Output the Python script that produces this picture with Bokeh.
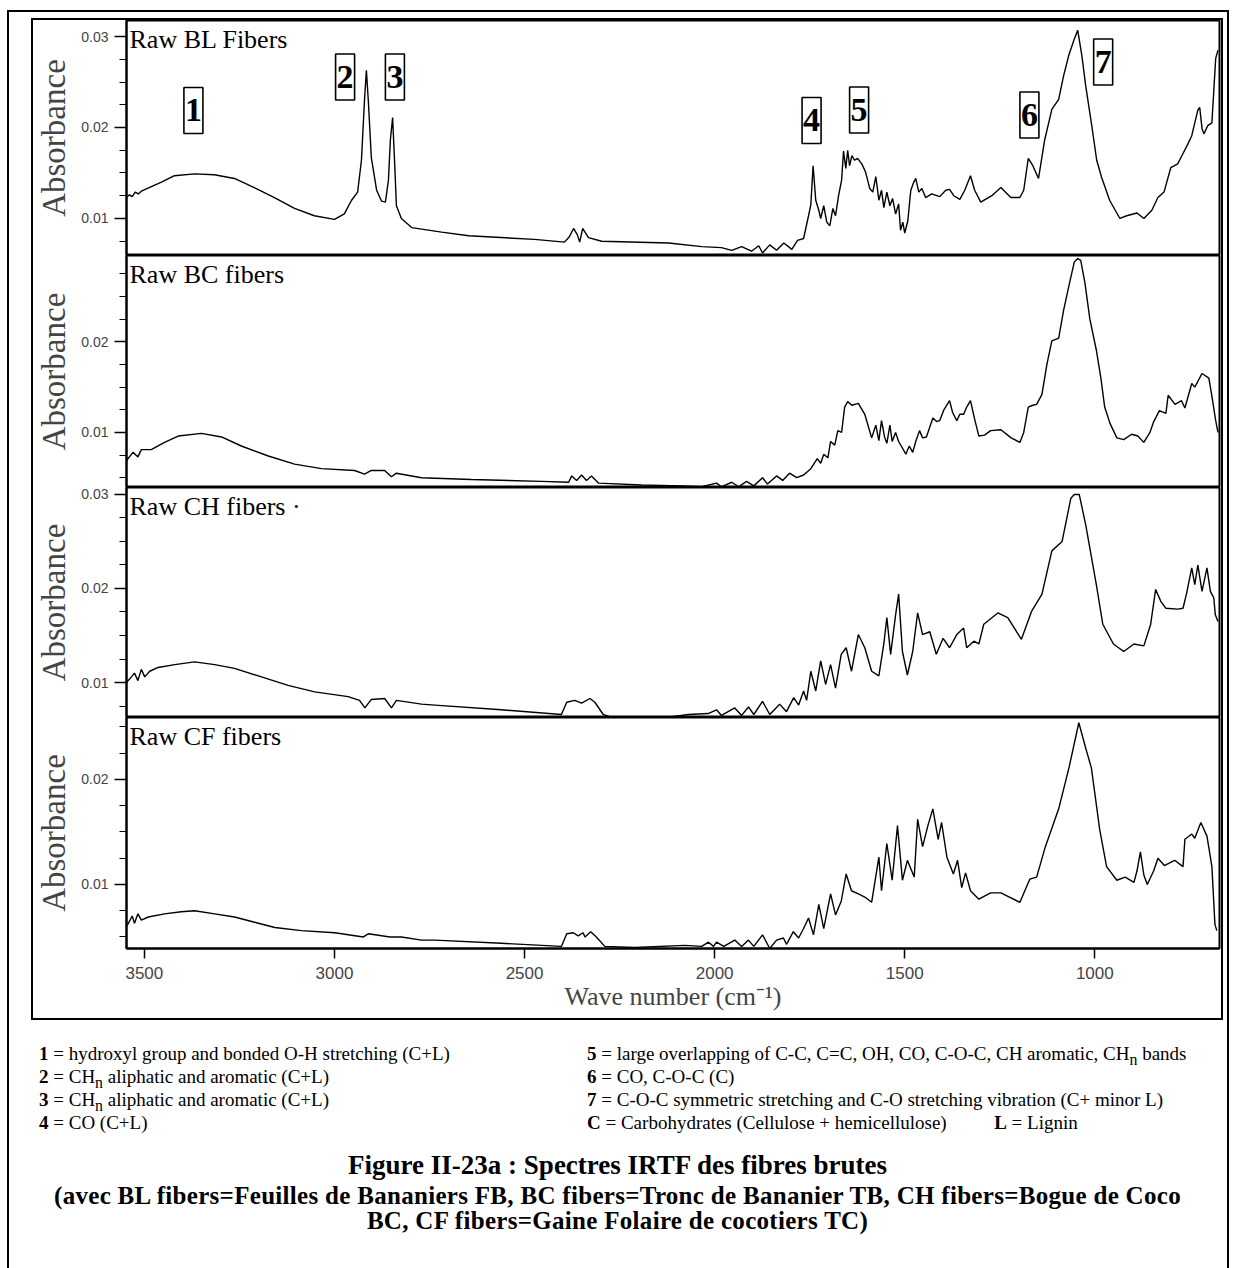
from bokeh.plotting import figure
from bokeh.models import Range1d, SingleIntervalTicker, Label, Div, PrintfTickFormatter
from bokeh.layouts import column
from bokeh.embed import file_html
from bokeh.resources import INLINE
from bokeh.core.properties import value

# ---------------- data ----------------
X_START, X_END = 3547, 672
X_TICKS = [3500, 3000, 2500, 2000, 1500, 1000]

BL_wn = [3547, 3539, 3532, 3524, 3516, 3508, 3455, 3421, 3368, 3316, 3263, 3211, 3158, 3105, 3053, 3000,
         2974, 2955, 2939, 2929, 2921, 2916, 2911, 2903, 2889, 2876, 2866, 2858, 2853, 2847, 2842, 2837,
         2824, 2797, 2718, 2647, 2474, 2395, 2382, 2371, 2361, 2355, 2347, 2332, 2297, 2121, 2034, 1982,
         1955, 1929, 1903, 1884, 1874, 1855, 1837, 1818, 1797, 1782, 1766, 1753, 1747, 1741, 1734, 1726,
         1721, 1713, 1705, 1697, 1689, 1682, 1674, 1666, 1661, 1655, 1650, 1645, 1639, 1632, 1624, 1613,
         1603, 1592, 1584, 1576, 1568, 1561, 1555, 1547, 1539, 1532, 1524, 1516, 1511, 1505, 1500, 1492,
         1484, 1476, 1471, 1463, 1455, 1445, 1429, 1408, 1392, 1382, 1371, 1355, 1342, 1327, 1316, 1300,
         1271, 1247, 1221, 1197, 1187, 1175, 1163, 1148, 1132, 1113, 1095, 1082, 1068, 1055, 1045, 1034,
         1024, 1008, 995, 982, 961, 934, 916, 889, 871, 850, 834, 818, 800, 782, 771, 755,
         745, 737, 729, 724, 718, 713, 703, 692, 682, 676]
BL_abs = [0.0123, 0.0126, 0.0124, 0.0129, 0.0127, 0.0130, 0.0140, 0.0147, 0.0149, 0.0148, 0.0144, 0.0134, 0.0123, 0.0111, 0.0103, 0.0099,
          0.0105, 0.0120, 0.0129, 0.0164, 0.0230, 0.0263, 0.0230, 0.0167, 0.0131, 0.0119, 0.0118, 0.0142, 0.0186, 0.0211, 0.0164, 0.0114,
          0.0100, 0.0090, 0.0085, 0.0081, 0.0077, 0.0074, 0.0080, 0.0089, 0.0082, 0.0074, 0.0089, 0.0079, 0.0075, 0.0073, 0.0069, 0.0068,
          0.0065, 0.0069, 0.0064, 0.0070, 0.0062, 0.0071, 0.0065, 0.0073, 0.0066, 0.0076, 0.0078, 0.0103, 0.0115, 0.0158, 0.0120, 0.0109,
          0.0100, 0.0114, 0.0096, 0.0092, 0.0111, 0.0103, 0.0125, 0.0142, 0.0174, 0.0155, 0.0175, 0.0158, 0.0169, 0.0164, 0.0166, 0.0160,
          0.0151, 0.0133, 0.0129, 0.0146, 0.0120, 0.0131, 0.0112, 0.0129, 0.0114, 0.0122, 0.0105, 0.0116, 0.0087, 0.0096, 0.0084, 0.0097,
          0.0131, 0.0140, 0.0144, 0.0129, 0.0133, 0.0123, 0.0127, 0.0124, 0.0131, 0.0132, 0.0125, 0.0121, 0.0131, 0.0147, 0.0131, 0.0118,
          0.0125, 0.0134, 0.0123, 0.0123, 0.0131, 0.0166, 0.0158, 0.0144, 0.0186, 0.0220, 0.0231, 0.0257, 0.0280, 0.0296, 0.0307, 0.0279,
          0.0246, 0.0202, 0.0164, 0.0145, 0.0120, 0.0100, 0.0103, 0.0106, 0.0100, 0.0109, 0.0123, 0.0129, 0.0156, 0.0160, 0.0169, 0.0182,
          0.0191, 0.0205, 0.0219, 0.0222, 0.0199, 0.0193, 0.0202, 0.0205, 0.0276, 0.0285]

BC_wn = [3547, 3530, 3517, 3508, 3482, 3447, 3411, 3350, 3297, 3245, 3174, 3105, 3034, 2947, 2921, 2903,
         2868, 2850, 2837, 2771, 2640, 2455, 2384, 2376, 2363, 2350, 2337, 2324, 2305, 2192, 2087, 2034,
         1995, 1982, 1955, 1937, 1916, 1897, 1874, 1861, 1837, 1821, 1803, 1784, 1766, 1747, 1730, 1721,
         1713, 1702, 1695, 1684, 1676, 1666, 1658, 1650, 1639, 1622, 1605, 1587, 1576, 1568, 1561, 1553,
         1547, 1539, 1533, 1524, 1516, 1505, 1497, 1488, 1479, 1471, 1461, 1453, 1443, 1434, 1426, 1416,
         1408, 1397, 1382, 1374, 1363, 1355, 1345, 1337, 1327, 1318, 1305, 1290, 1274, 1247, 1220, 1197,
         1187, 1175, 1163, 1153, 1139, 1126, 1113, 1095, 1082, 1068, 1054, 1045, 1037, 1026, 1013, 996,
         984, 974, 960, 942, 924, 903, 887, 871, 855, 845, 830, 813, 807, 789, 772, 763,
         745, 737, 718, 700, 692, 682, 676]
BC_abs = [0.0069, 0.0078, 0.0073, 0.0081, 0.0081, 0.0089, 0.0096, 0.0099, 0.0095, 0.0085, 0.0074, 0.0065, 0.0060, 0.0058, 0.0054, 0.0058,
          0.0058, 0.0051, 0.0055, 0.0050, 0.0048, 0.0046, 0.0045, 0.0052, 0.0047, 0.0053, 0.0047, 0.0052, 0.0044, 0.0042, 0.0041, 0.0040,
          0.0044, 0.0040, 0.0045, 0.0040, 0.0046, 0.0041, 0.0050, 0.0043, 0.0052, 0.0047, 0.0055, 0.0050, 0.0053, 0.0060, 0.0071, 0.0066,
          0.0076, 0.0072, 0.0090, 0.0086, 0.0102, 0.0100, 0.0128, 0.0134, 0.0130, 0.0132, 0.0120, 0.0094, 0.0108, 0.0091, 0.0113, 0.0095,
          0.0088, 0.0108, 0.0090, 0.0100, 0.0090, 0.0082, 0.0076, 0.0085, 0.0078, 0.0090, 0.0102, 0.0094, 0.0095, 0.0106, 0.0116, 0.0112,
          0.0113, 0.0125, 0.0135, 0.0122, 0.0113, 0.0120, 0.0120, 0.0128, 0.0135, 0.0118, 0.0096, 0.0097, 0.0102, 0.0103, 0.0094, 0.0089,
          0.0100, 0.0128, 0.0130, 0.0131, 0.0142, 0.0175, 0.0201, 0.0204, 0.0235, 0.0262, 0.0288, 0.0292, 0.0290, 0.0265, 0.0225, 0.0191,
          0.0160, 0.0128, 0.0110, 0.0094, 0.0092, 0.0098, 0.0096, 0.0089, 0.0100, 0.0112, 0.0124, 0.0121, 0.0141, 0.0131, 0.0135, 0.0127,
          0.0154, 0.0150, 0.0165, 0.0160, 0.0140, 0.0113, 0.0100]

CH_wn = [3547, 3534, 3526, 3517, 3508, 3499, 3486, 3464, 3420, 3368, 3315, 3263, 3192, 3122, 3052, 2964,
         2934, 2920, 2903, 2868, 2850, 2837, 2771, 2736, 2561, 2403, 2389, 2368, 2350, 2328, 2315, 2293,
         2271, 2122, 2069, 2017, 1995, 1982, 1947, 1929, 1911, 1897, 1874, 1855, 1829, 1811, 1792, 1779,
         1766, 1758, 1747, 1734, 1721, 1708, 1695, 1682, 1667, 1654, 1640, 1622, 1605, 1587, 1568, 1555,
         1547, 1537, 1524, 1516, 1506, 1493, 1479, 1466, 1453, 1434, 1417, 1399, 1382, 1363, 1345, 1337,
         1318, 1305, 1292, 1255, 1229, 1193, 1166, 1139, 1113, 1086, 1063, 1054, 1041, 1024, 996, 979,
         951, 924, 897, 871, 853, 840, 826, 813, 782, 768, 759, 745, 737, 729, 718, 705,
         696, 687, 683, 676]
CH_abs = [0.0100, 0.0106, 0.0110, 0.0102, 0.0114, 0.0106, 0.0112, 0.0116, 0.0119, 0.0122, 0.0119, 0.0115, 0.0106, 0.0097, 0.0090, 0.0085,
          0.0081, 0.0073, 0.0082, 0.0083, 0.0073, 0.0081, 0.0077, 0.0076, 0.0071, 0.0066, 0.0079, 0.0081, 0.0078, 0.0083, 0.0079, 0.0066,
          0.0063, 0.0063, 0.0066, 0.0067, 0.0071, 0.0065, 0.0073, 0.0065, 0.0074, 0.0066, 0.0080, 0.0066, 0.0077, 0.0069, 0.0084, 0.0076,
          0.0091, 0.0081, 0.0112, 0.0091, 0.0123, 0.0098, 0.0119, 0.0094, 0.0130, 0.0137, 0.0112, 0.0151, 0.0137, 0.0112, 0.0107, 0.0141,
          0.0169, 0.0130, 0.0172, 0.0194, 0.0133, 0.0108, 0.0133, 0.0174, 0.0151, 0.0154, 0.0130, 0.0147, 0.0137, 0.0151, 0.0158, 0.0137,
          0.0144, 0.0141, 0.0162, 0.0174, 0.0169, 0.0146, 0.0176, 0.0194, 0.0240, 0.0250, 0.0296, 0.0300, 0.0300, 0.0268, 0.0204, 0.0162,
          0.0141, 0.0133, 0.0141, 0.0139, 0.0162, 0.0199, 0.0186, 0.0179, 0.0178, 0.0179, 0.0194, 0.0222, 0.0204, 0.0225, 0.0197, 0.0222,
          0.0197, 0.0190, 0.0172, 0.0165]

CF_wn = [3545, 3532, 3526, 3517, 3508, 3490, 3447, 3403, 3368, 3315, 3263, 3210, 3157, 3087, 2999, 2924,
         2911, 2854, 2824, 2771, 2736, 2561, 2403, 2389, 2372, 2359, 2346, 2341, 2326, 2311, 2289, 2210,
         2078, 2034, 2016, 2003, 1995, 1976, 1947, 1929, 1911, 1897, 1874, 1855, 1837, 1819, 1811, 1793,
         1779, 1766, 1753, 1740, 1726, 1713, 1695, 1682, 1667, 1654, 1640, 1622, 1605, 1587, 1568, 1561,
         1547, 1533, 1519, 1506, 1493, 1475, 1466, 1453, 1439, 1426, 1412, 1403, 1389, 1372, 1361, 1350,
         1340, 1327, 1305, 1274, 1247, 1197, 1171, 1153, 1130, 1095, 1068, 1042, 1024, 1009, 987, 969,
         942, 920, 897, 889, 880, 871, 862, 845, 834, 817, 790, 768, 763, 745, 737, 721,
         705, 696, 692, 684, 679]
CF_abs = [0.0061, 0.0070, 0.0063, 0.0072, 0.0066, 0.0069, 0.0072, 0.0074, 0.0075, 0.0072, 0.0069, 0.0064, 0.0059, 0.0056, 0.0054, 0.0050,
          0.0053, 0.0050, 0.0050, 0.0047, 0.0047, 0.0044, 0.0041, 0.0053, 0.0054, 0.0051, 0.0054, 0.0050, 0.0055, 0.0050, 0.0041, 0.0040,
          0.0042, 0.0041, 0.0045, 0.0041, 0.0045, 0.0041, 0.0047, 0.0041, 0.0047, 0.0041, 0.0052, 0.0039, 0.0047, 0.0049, 0.0043, 0.0055,
          0.0049, 0.0058, 0.0068, 0.0052, 0.0081, 0.0058, 0.0091, 0.0071, 0.0084, 0.0110, 0.0094, 0.0091, 0.0088, 0.0083, 0.0126, 0.0094,
          0.0139, 0.0104, 0.0156, 0.0104, 0.0123, 0.0107, 0.0162, 0.0136, 0.0156, 0.0172, 0.0143, 0.0159, 0.0126, 0.0110, 0.0123, 0.0097,
          0.0111, 0.0094, 0.0086, 0.0092, 0.0092, 0.0083, 0.0105, 0.0107, 0.0136, 0.0172, 0.0211, 0.0254, 0.0230, 0.0211, 0.0152, 0.0117,
          0.0104, 0.0107, 0.0102, 0.0113, 0.0131, 0.0109, 0.0100, 0.0113, 0.0125, 0.0118, 0.0123, 0.0117, 0.0143, 0.0148, 0.0144, 0.0159,
          0.0146, 0.0126, 0.0117, 0.0062, 0.0056]

PANEL_NAMES = ["Raw BL Fibers", "Raw BC fibers", "Raw CH fibers \u00b7", "Raw CF fibers"]
Y_RANGES = [(0.00593, 0.03176), (0.00392, 0.02953), (0.00628, 0.03074), (0.00390, 0.02590)]

BAND_LABELS = ["1", "2", "3", "4", "5", "6", "7"]
BAND_WN = [3371, 2972, 2841, 1745, 1620, 1172, 978]
BAND_ABS = [0.02187, 0.02555, 0.02555, 0.02077, 0.02192, 0.02137, 0.0272]

SERIES = [(BL_wn, BL_abs), (BC_wn, BC_abs), (CH_wn, CH_abs), (CF_wn, CF_abs)]

# ---------------- layout constants ----------------
FRAME_W = 1093
FRAME_H = [235, 232, 230, 231]
SERIF = "Liberation Serif"
SANS = "Liberation Sans"

panels = []
for i, (wn, ab) in enumerate(SERIES):
    lo, hi = Y_RANGES[i]
    last = (i == 3)
    p = figure(frame_width=FRAME_W, frame_height=FRAME_H[i],
               x_range=Range1d(X_START, X_END), y_range=Range1d(lo, hi),
               output_backend="svg", toolbar_location=None,
               x_axis_location="below" if last else None,
               min_border_left=92, min_border_right=2, min_border_top=0,
               min_border_bottom=70 if last else 0,
               background_fill_color="white", border_fill_color="white")
    p.grid.visible = False
    p.outline_line_color = "black"
    p.outline_line_width = 2
    p.line(wn, ab, line_color="black", line_width=1.4)

    ya = p.yaxis[0]
    ya.ticker = SingleIntervalTicker(interval=0.01, num_minor_ticks=4)
    ya.formatter = PrintfTickFormatter(format="%.2f")
    ya.axis_label = "Absorbance"
    ya.axis_label_text_font = SERIF
    ya.axis_label_text_font_style = "normal"
    ya.axis_label_text_font_size = "33px"
    ya.axis_label_standoff = 6
    ya.major_label_text_font = SANS
    ya.major_label_text_font_size = "14px"
    ya.major_label_standoff = 6
    ya.major_tick_out = 12
    ya.major_tick_in = 0
    ya.minor_tick_out = 7
    ya.minor_tick_in = 0
    ya.axis_line_width = 2
    ya.major_tick_line_width = 1.5
    ya.minor_tick_line_width = 1.2

    if last:
        xa = p.xaxis[0]
        xa.ticker = X_TICKS
        xa.axis_label = "Wave number (cm\u207b\u00b9)"
        xa.axis_label_text_font = SERIF
        xa.axis_label_text_font_style = "normal"
        xa.axis_label_text_font_size = "26px"
        xa.axis_label_standoff = 0
        xa.major_label_text_font = SANS
        xa.major_label_text_font_size = "17px"
        xa.major_label_standoff = 8
        xa.major_tick_out = 10
        xa.major_tick_in = 0
        xa.minor_tick_out = 0
        xa.minor_tick_in = 0
        xa.axis_line_width = 2
        xa.major_tick_line_width = 1.5

    # panel name (top-left corner)
    dy = (hi - lo) / FRAME_H[i]
    p.add_layout(Label(x=X_START - 3 * 2.6316, y=hi - 4 * dy, text=PANEL_NAMES[i],
                       text_font=SERIF, text_font_size="26px", text_baseline="top",
                       text_align="left", text_color="black"))

    if i == 0:
        p.rect(x=BAND_WN, y=BAND_ABS, width=19, height=46, width_units="screen",
               height_units="screen", fill_color="white", line_color="black", line_width=1.6)
        p.text(x=BAND_WN, y=BAND_ABS, text=BAND_LABELS, text_align="center",
               text_baseline="middle", text_font=value(SERIF), text_font_style="bold",
               text_font_size="34px", text_color="black")
    panels.append(p)

inner = column(*panels, styles={"border": "2px solid black"}, margin=(6, 4, 0, 22))

legend_left = [
    ("1", "hydroxyl group and bonded O-H stretching (C+L)"),
    ("2", "CH<sub>n</sub> aliphatic and aromatic (C+L)"),
    ("3", "CH<sub>n</sub> aliphatic and aromatic (C+L)"),
    ("4", "CO (C+L)"),
]
legend_right = [
    ("5", "large overlapping of C-C, C=C, OH, CO, C-O-C, CH aromatic, CH<sub>n</sub> bands"),
    ("6", "CO, C-O-C (C)"),
    ("7", "C-O-C symmetric stretching and C-O stretching vibration (C+ minor L)"),
    ("C", "Carbohydrates (Cellulose + hemicellulose)&nbsp;&nbsp;&nbsp;&nbsp;&nbsp;&nbsp;&nbsp;&nbsp;&nbsp;&nbsp;<b>L</b> = Lignin"),
]
LEG_TOPS = [23, 46, 69, 92]
CAPTION_TITLE = "Figure II-23a : Spectres IRTF des fibres brutes"
CAPTION_LINES = ["(avec BL fibers=Feuilles de Bananiers FB, BC fibers=Tronc de Bananier TB, CH fibers=Bogue de Coco",
                 "BC, CF fibers=Gaine Folaire de cocotiers TC)"]

parts = []
for (k, t), top in zip(legend_left, LEG_TOPS):
    parts.append(f'<div style="position:absolute;left:30px;top:{top}px;white-space:nowrap;">'
                 f'<b>{k}</b> = {t}</div>')
for (k, t), top in zip(legend_right, LEG_TOPS):
    parts.append(f'<div style="position:absolute;left:578px;top:{top}px;white-space:nowrap;">'
                 f'<b>{k}</b> = {t}</div>')
parts.append('<div style="position:absolute;left:0;width:1217px;top:130px;text-align:center;'
             'font-weight:bold;font-size:27px;line-height:30px;white-space:nowrap;">'
             f'{CAPTION_TITLE}</div>')
for line, top in zip(CAPTION_LINES, [163, 188]):
    parts.append(f'<div style="position:absolute;left:0;width:1217px;top:{top}px;text-align:center;'
                 'font-weight:bold;font-size:25px;line-height:25px;letter-spacing:0.3px;white-space:nowrap;">'
                 f'{line}</div>')

html = ('<div style="position:relative;width:1217px;height:252px;font-family:\'Liberation Serif\',serif;'
        'font-size:19px;line-height:22px;color:black;">' + "".join(parts) + '</div>')
legend = Div(text=html, width=1217, height=252, margin=0)

outer = column(inner, legend, styles={"border": "2px solid black", "background": "white"},
               margin=(10, 0, 0, 7))

open("out.html", "w").write(file_html(outer, INLINE))
